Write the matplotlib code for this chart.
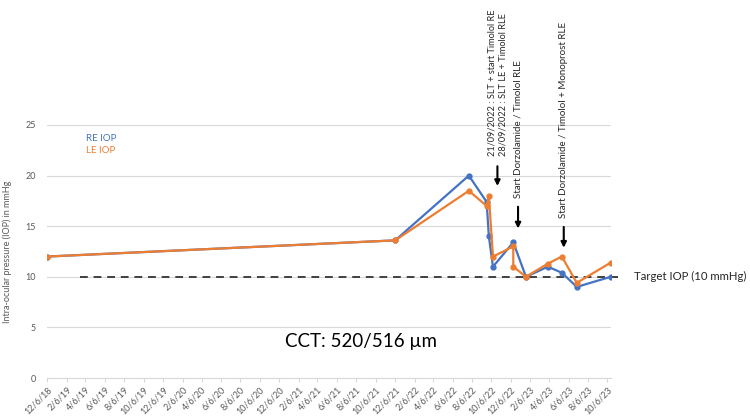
import matplotlib
matplotlib.use("Agg")
import matplotlib.pyplot as plt
import pandas as pd

plt.rcParams['font.family'] = ['Lato', 'DejaVu Sans']

# data
re_dates = ['2018-12-06', '2021-12-07', '2022-07-27', '2022-09-21', '2022-09-28', '2022-10-11',
            '2022-12-14', '2023-01-23', '2023-04-02', '2023-05-16', '2023-07-02', '2023-10-17']
re_iop = [12, 13.6, 20, 17.4, 14, 11, 13.4, 10, 11, 10.4, 9, 10]

le_dates = ['2018-12-06', '2021-12-07', '2022-07-27', '2022-09-21', '2022-09-28', '2022-10-11',
            '2022-12-14', '2022-12-14', '2023-01-23', '2023-04-02', '2023-05-16', '2023-07-02', '2023-10-17']
le_iop = [12, 13.6, 18.5, 17, 18, 12, 13, 11, 10, 11.3, 12, 9.4, 11.4]

target_iop = 10
target_span = ['2019-03-20', '2023-11-09']

note_texts = ['21/09/2022 : SLT + start Timolol RE\n28/09/2022 : SLT LE + Timolol RLE',
              'Start Dorzolamide / Timolol RLE',
              'Start Dorzolamide / Timolol + Monoprost RLE']
note_dates = ['2022-10-25', '2022-12-29', '2023-05-22']

ticks = pd.date_range('2018-12-01', '2023-10-01', freq='2MS') + pd.Timedelta(days=5)
tick_labels = [f"{d.month}/{d.day}/{d.year % 100}" for d in ticks]

blue = '#4472C4'
orange = '#ED7D31'
grey = '#595959'

fig = plt.figure(figsize=(7.5, 4.2), dpi=100)
ax = fig.add_axes([0.0627, 0.1, 0.7516, 0.6024])

ax.plot(pd.to_datetime(re_dates), re_iop, color=blue, lw=1.6, marker='o', ms=3.5, zorder=3)
ax.plot(pd.to_datetime(le_dates), le_iop, color=orange, lw=1.6, marker='o', ms=3.5, zorder=4)

ax.plot(pd.to_datetime(target_span), [target_iop, target_iop], color='#404040', lw=1.4,
        ls=(0, (4, 3)), clip_on=False, zorder=2)
ax.text(pd.Timestamp(target_span[1]) + pd.Timedelta(days=50), target_iop, 'Target IOP (10 mmHg)',
        fontsize=8.2, color='#262626', va='center', ha='left')

ax.set_xlim(pd.Timestamp(re_dates[0]), pd.Timestamp(re_dates[-1]))
ax.set_ylim(0, 25)
ax.set_yticks([0, 5, 10, 15, 20, 25])
ax.set_xticks(ticks)
ax.set_xticklabels(tick_labels, rotation=45, ha='right', rotation_mode='anchor')
ax.tick_params(axis='x', labelsize=6.5, labelcolor=grey, color='#d9d9d9', length=3, pad=2)
ax.tick_params(axis='y', labelsize=6.5, labelcolor=grey, length=0, pad=8)
ax.grid(axis='y', color='#d9d9d9', lw=0.8)
ax.set_axisbelow(True)
for s in ['top', 'right', 'left']:
    ax.spines[s].set_visible(False)
ax.spines['bottom'].set_color('#d9d9d9')

ax.set_ylabel('Intra-ocular pressure (IOP) in mmHg', fontsize=6.5, color=grey, labelpad=10)

ax.text(0.07, 0.945, 'RE IOP', transform=ax.transAxes, color=blue, fontsize=7, va='center')
ax.text(0.07, 0.901, 'LE IOP', transform=ax.transAxes, color=orange, fontsize=7, va='center')

ax.text(0.557, 0.146, 'CCT: 520/516 µm', transform=ax.transAxes, fontsize=13.5, ha='center', va='center')

# arrow tail / tip / text bottom in IOP units, font size per note
arrow_tail = [21.2, 17.2, 15.2]
arrow_tip = [18.7, 14.5, 12.6]
text_base = [21.9, 17.8, 15.8]
text_size = [6.6, 7, 7]
for d, y0, y1, yt, fs, txt in zip(note_dates, arrow_tail, arrow_tip, text_base, text_size, note_texts):
    d = pd.Timestamp(d)
    ax.annotate('', xy=(d, y1), xytext=(d, y0),
                arrowprops=dict(arrowstyle='-|>', color='black', lw=1.5, mutation_scale=8),
                annotation_clip=False)
    ax.text(d, yt, txt, rotation=90, ha='center', va='bottom', fontsize=fs,
            multialignment='left', color='#262626', clip_on=False)

fig.savefig('out.png', dpi=100)
